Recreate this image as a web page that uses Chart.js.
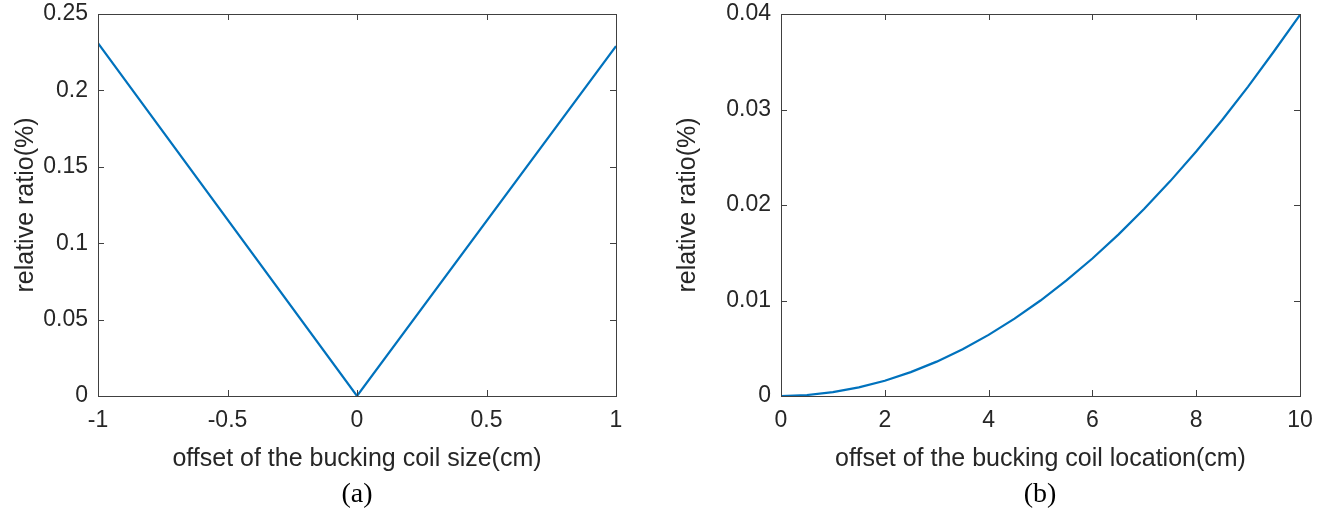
<!DOCTYPE html>
<html>
<head>
<meta charset="utf-8">
<script src="https://cdn.jsdelivr.net/npm/chart.js@4.4.1/dist/chart.umd.min.js"></script>
<style>
  html, body { margin: 0; padding: 0; background: #fff; }
  body { width: 1324px; height: 508px; position: relative; overflow: hidden; }
  .box { position: absolute; top: 0; width: 662px; height: 508px; }
  .cap { position: absolute; top: 477px; font-family: "Liberation Serif", "Times New Roman", serif; font-size: 28px; line-height: 32px; color: #000; text-align: center; width: 100px; }
</style>
</head>
<body>
<div class="box" style="left:0"><canvas id="ca"></canvas></div>
<div class="box" style="left:662px"><canvas id="cb"></canvas></div>
<div class="cap" id="capA" style="left:307px">(a)</div>
<div class="cap" id="capB" style="left:990px">(b)</div>
<script>
// ---- data (a) ----
const xA = [-1, 0, 1];
const yA = [0.231, 0, 0.229];
const xTicksA = [-1, -0.5, 0, 0.5, 1];
const yTicksA = [0, 0.05, 0.1, 0.15, 0.2, 0.25];
// ---- data (b) ----
const xB = [0, 0.5, 1, 1.5, 2, 2.5, 3, 3.5, 4, 4.5, 5, 5.5, 6, 6.5, 7, 7.5, 8, 8.5, 9, 9.5, 10];
const yB = [0, 0.0001, 0.0004, 0.0009, 0.0016, 0.0025, 0.0036, 0.0049, 0.0064, 0.0081, 0.0100,
            0.0121, 0.0144, 0.0169, 0.0196, 0.0225, 0.0256, 0.0289, 0.0324, 0.0361, 0.0399];
const xTicksB = [0, 2, 4, 6, 8, 10];
const yTicksB = [0, 0.01, 0.02, 0.03, 0.04];

const TXT = '#262626';
const FONT = '"Liberation Sans", Arial, Helvetica, sans-serif';

const boxTicks = {
  id: 'boxTicks',
  afterDraw(chart) {
    const {ctx, chartArea: a, scales: {x, y}} = chart;
    ctx.save();
    ctx.strokeStyle = '#404040';
    ctx.lineWidth = 1;
    ctx.strokeRect(Math.round(a.left) + 0.5, Math.round(a.top) + 0.5,
                   Math.round(a.right - a.left), Math.round(a.bottom - a.top));
    const L = 6;
    ctx.beginPath();
    x.ticks.forEach(t => {
      const px = Math.round(x.getPixelForValue(t.value)) + 0.5;
      ctx.moveTo(px, a.bottom); ctx.lineTo(px, a.bottom - L);
      ctx.moveTo(px, a.top); ctx.lineTo(px, a.top + L);
    });
    y.ticks.forEach(t => {
      const py = Math.round(y.getPixelForValue(t.value)) + 0.5;
      ctx.moveTo(a.left, py); ctx.lineTo(a.left + L, py);
      ctx.moveTo(a.right, py); ctx.lineTo(a.right - L, py);
    });
    ctx.stroke();
    ctx.restore();
  }
};

function make(id, xs, ys, xt, yt, xTitle, area) {
  const W = 662, H = 508;
  const pts = xs.map((v, i) => ({x: v, y: ys[i]}));
  return new Chart(document.getElementById(id), {
    type: 'line',
    data: { datasets: [{ data: pts, borderColor: '#0072BD', borderWidth: 2.2, pointRadius: 0, tension: 0, fill: false }] },
    options: {
      responsive: true, maintainAspectRatio: false, animation: false,
      layout: { padding: { left: 0, top: area.top, right: W - area.right, bottom: 0 } },
      plugins: { legend: { display: false }, tooltip: { enabled: false } },
      scales: {
        x: {
          type: 'linear', min: xt[0], max: xt[xt.length - 1],
          afterBuildTicks: s => { s.ticks = xt.map(v => ({value: v})); },
          afterFit: s => { s.height = H - area.bottom; s.paddingLeft = 0; s.paddingRight = 0; },
          grid: { display: false, drawTicks: false },
          border: { display: false },
          ticks: { color: TXT, font: { family: FONT, size: 23 }, padding: 11, maxRotation: 0, callback: v => String(v) },
          title: { display: true, text: xTitle, color: TXT, font: { family: FONT, size: 25 }, padding: { top: 0, bottom: 34 } }
        },
        y: {
          type: 'linear', min: yt[0], max: yt[yt.length - 1],
          afterBuildTicks: s => { s.ticks = yt.map(v => ({value: v})); },
          afterFit: s => { s.width = area.left; s.paddingTop = 0; s.paddingBottom = 0; },
          grid: { display: false, drawTicks: false },
          border: { display: false },
          ticks: { color: TXT, font: { family: FONT, size: 23 }, padding: 10, callback: v => String(v) },
          title: { display: true, text: 'relative ratio(%)', color: TXT, font: { family: FONT, size: 25 }, padding: { top: 11, bottom: 0 } }
        }
      }
    },
    plugins: [boxTicks]
  });
}

make('ca', xA, yA, xTicksA, yTicksA, 'offset of the bucking coil size(cm)', {left: 98, right: 616, top: 14, bottom: 396});
make('cb', xB, yB, xTicksB, yTicksB, 'offset of the bucking coil location(cm)', {left: 119, right: 638, top: 14, bottom: 396});
</script>
</body>
</html>
